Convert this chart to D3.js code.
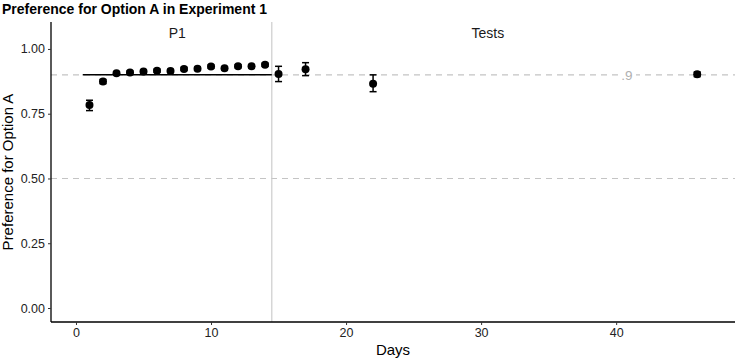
<!DOCTYPE html>
<html>
<head>
<meta charset="utf-8">
<script src="https://cdn.jsdelivr.net/npm/d3@7"></script>
<style>
  body { margin: 0; background: #fff; }
  svg { font-family: "Liberation Sans", Arial, sans-serif; }
</style>
</head>
<body>
<div id="chart"></div>
<script>
// Days and mean preference, with lower / upper error bounds
const days = [1, 2, 3, 4, 5, 6, 7, 8, 9, 10, 11, 12, 13, 14, 15, 17, 22, 46];
const means = [0.784, 0.874, 0.906, 0.909, 0.913, 0.916, 0.915, 0.923, 0.924, 0.932, 0.925, 0.933, 0.933, 0.939, 0.903, 0.922, 0.866, 0.902];
const lower = [0.762, 0.866, 0.900, 0.903, 0.907, 0.910, 0.909, 0.917, 0.918, 0.926, 0.919, 0.927, 0.927, 0.933, 0.874, 0.897, 0.835, 0.893];
const upper = [0.802, 0.882, 0.912, 0.915, 0.919, 0.922, 0.921, 0.929, 0.930, 0.938, 0.931, 0.939, 0.939, 0.945, 0.933, 0.947, 0.900, 0.911];

const phases = [
  { name: "P1", from: 0.5, to: 14.5 },
  { name: "Tests", from: 14.5, to: 46.5 }
];
const refLines = [0.9, 0.5];
const criterion = { from: 0.5, to: 14.5, value: 0.9 };
const xTicks = [0, 10, 20, 30, 40];
const yTicks = [0, 0.25, 0.5, 0.75, 1];

const width = 736, height = 360;
const margin = { top: 22, right: 1, bottom: 38, left: 51 };

const svg = d3.select("#chart").append("svg")
    .attr("width", width)
    .attr("height", height);

const x = d3.scaleLinear().domain([-1.85, 48.8]).range([margin.left, width - margin.right]);
const y = d3.scaleLinear().domain([-0.054, 1.104]).range([height - margin.bottom, margin.top]);

// title
svg.append("text")
    .attr("x", 2)
    .attr("y", 14)
    .attr("font-size", 14)
    .attr("font-weight", "bold")
    .text("Preference for Option A in Experiment 1");

// dashed reference lines
svg.append("g").selectAll("line")
    .data(refLines)
    .join("line")
    .attr("x1", x.range()[0])
    .attr("x2", x.range()[1])
    .attr("y1", d => y(d))
    .attr("y2", d => y(d))
    .attr("stroke", "#c4c4c4")
    .attr("stroke-width", 1.2)
    .attr("stroke-dasharray", "6,5");

// label for the .9 line, with white gap behind it
const lab = svg.append("g").attr("transform", `translate(${x(40.8)},${y(0.9)})`);
lab.append("rect").attr("x", -9).attr("y", -7).attr("width", 18).attr("height", 14).attr("fill", "#fff");
lab.append("text")
    .attr("text-anchor", "middle")
    .attr("dy", "0.35em")
    .attr("font-size", 13.5)
    .attr("fill", "#b0b0b0")
    .text(".9");

// phase divider
svg.append("line")
    .attr("x1", x(14.5)).attr("x2", x(14.5))
    .attr("y1", margin.top).attr("y2", height - margin.bottom)
    .attr("stroke", "#cccccc")
    .attr("stroke-width", 1.2);

// phase labels
svg.append("g").selectAll("text")
    .data(phases)
    .join("text")
    .attr("x", d => x((d.from + d.to) / 2))
    .attr("y", 38)
    .attr("text-anchor", "middle")
    .attr("font-size", 14)
    .attr("fill", "#1a1a1a")
    .text(d => d.name);

// criterion segment
svg.append("line")
    .attr("x1", x(criterion.from)).attr("x2", x(criterion.to))
    .attr("y1", y(criterion.value)).attr("y2", y(criterion.value))
    .attr("stroke", "#000")
    .attr("stroke-width", 1.5);

const pts = days.map((d, i) => ({ day: d, m: means[i], lo: lower[i], hi: upper[i] }));

// error bars
const eb = svg.append("g").attr("stroke", "#000").attr("stroke-width", 1.5);
eb.selectAll("line.v").data(pts).join("line").attr("class", "v")
    .attr("x1", d => x(d.day)).attr("x2", d => x(d.day))
    .attr("y1", d => y(d.lo)).attr("y2", d => y(d.hi));
eb.selectAll("line.t").data(pts).join("line").attr("class", "t")
    .attr("x1", d => x(d.day) - 3.5).attr("x2", d => x(d.day) + 3.5)
    .attr("y1", d => y(d.hi)).attr("y2", d => y(d.hi));
eb.selectAll("line.b").data(pts).join("line").attr("class", "b")
    .attr("x1", d => x(d.day) - 3.5).attr("x2", d => x(d.day) + 3.5)
    .attr("y1", d => y(d.lo)).attr("y2", d => y(d.lo));

// points
svg.append("g").selectAll("circle")
    .data(pts)
    .join("circle")
    .attr("cx", d => x(d.day))
    .attr("cy", d => y(d.m))
    .attr("r", 4)
    .attr("fill", "#000");

// axes
const xAxis = svg.append("g")
    .attr("transform", `translate(0,${height - margin.bottom})`)
    .call(d3.axisBottom(x).tickValues(xTicks).tickSize(3).tickPadding(3).tickFormat(d3.format("d")));
const yAxis = svg.append("g")
    .attr("transform", `translate(${margin.left},0)`)
    .call(d3.axisLeft(y).tickValues(yTicks).tickSize(3).tickPadding(3).tickFormat(d3.format(".2f")));

[xAxis, yAxis].forEach(a => {
  a.select(".domain").attr("stroke", "#000").attr("stroke-width", 1.3);
  a.selectAll(".tick line").attr("stroke", "#333");
  a.selectAll(".tick text").attr("font-size", 12.5).attr("fill", "#222")
      .attr("font-family", "'Liberation Sans', Arial, sans-serif");
});
xAxis.select(".domain").attr("d", `M${x.range()[0]},0H${x.range()[1]}`);
yAxis.select(".domain").attr("d", `M0,${y.range()[0]}V${y.range()[1]}`);

// axis titles
svg.append("text")
    .attr("x", (x.range()[0] + x.range()[1]) / 2)
    .attr("y", 355)
    .attr("text-anchor", "middle")
    .attr("font-size", 15)
    .text("Days");
svg.append("text")
    .attr("transform", `translate(13,${(y.range()[0] + y.range()[1]) / 2}) rotate(-90)`)
    .attr("text-anchor", "middle")
    .attr("font-size", 15)
    .text("Preference for Option A");
</script>
</body>
</html>
